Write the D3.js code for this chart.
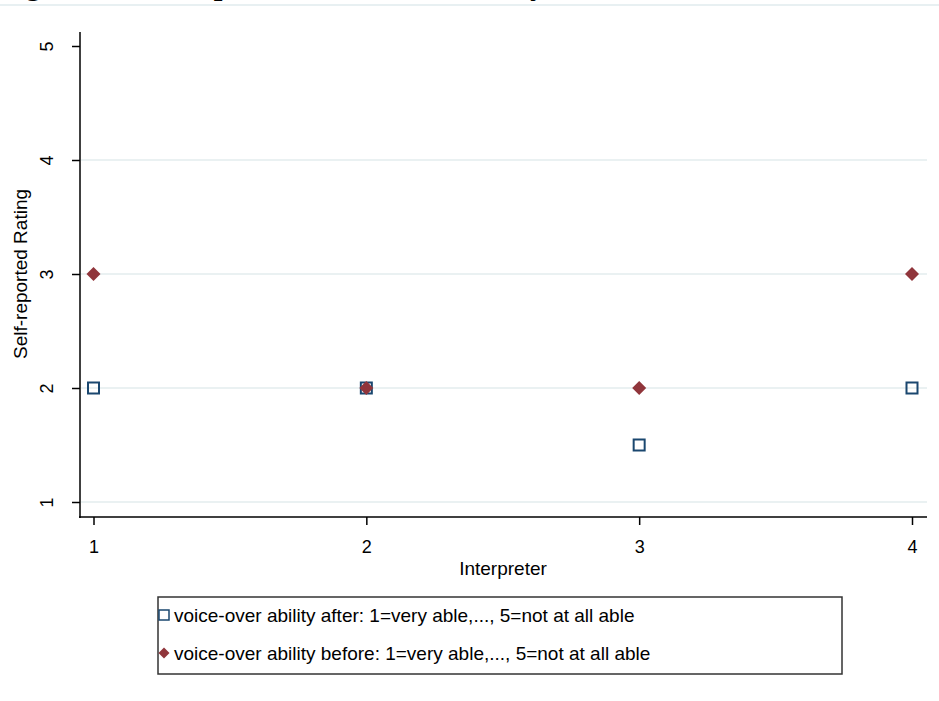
<!DOCTYPE html>
<html><head><meta charset="utf-8">
<script src="https://cdn.jsdelivr.net/npm/d3@7"></script>
<style>body{margin:0;background:#fff;} svg{display:block;}</style>
</head><body>
<svg id="chart" width="939" height="701"></svg>
<script>
const interpreters = [1, 2, 3, 4];
const afterValues = [2, 2, 1.5, 2];
const beforeValues = [3, 2, 2, 3];
const yTicks = [1, 2, 3, 4, 5];
const gridTicks = [1, 2, 3, 4];
const seriesNames = [
  "voice-over ability after: 1=very able,..., 5=not at all able",
  "voice-over ability before: 1=very able,..., 5=not at all able"
];
const titleText = "Figure 5: Self-reported Voice-over Ability";

const svg = d3.select("#chart");
const font = "'Liberation Sans', Arial, sans-serif";
const navy = "#1a476f", maroon = "#90353b";

// cut-off title at top (only descenders visible in the reference)
svg.append("text").attr("x", -2).attr("y", -6)
  .attr("font-family", "'Liberation Serif', 'Times New Roman', serif")
  .attr("font-weight", "bold").attr("font-size", 31).attr("fill", "#000")
  .text(titleText);
svg.append("rect").attr("x", 0).attr("y", 4).attr("width", 939).attr("height", 2).attr("fill", "#e8f0f2");

const x = d3.scaleLinear().domain([1, 4]).range([93.5, 912]);
const y = d3.scaleLinear().domain([1, 5]).range([502, 46]);

// gridlines
svg.append("g").selectAll("line").data(gridTicks).join("line")
  .attr("x1", 81).attr("x2", 927).attr("y1", d => y(d)).attr("y2", d => y(d))
  .attr("stroke", "#e3ecee").attr("stroke-width", 1.5);

// axes lines
svg.append("line").attr("x1", 80).attr("x2", 80).attr("y1", 32).attr("y2", 518)
  .attr("stroke", "#000").attr("stroke-width", 1.5);
svg.append("line").attr("x1", 79).attr("x2", 927).attr("y1", 517).attr("y2", 517)
  .attr("stroke", "#000").attr("stroke-width", 1.5);

// y axis
const yAxis = svg.append("g").attr("transform", "translate(80,0)")
  .call(d3.axisLeft(y).tickValues(yTicks).tickSize(8).tickPadding(0).tickFormat(d3.format("d")));
yAxis.select(".domain").remove();
yAxis.selectAll(".tick line").attr("stroke", "#000").attr("stroke-width", 1.5);
yAxis.selectAll(".tick text").attr("font-family", font).attr("font-size", 18).attr("fill", "#000")
  .attr("text-anchor", "middle").attr("x", 0).attr("dy", 0).attr("y", 0)
  .attr("transform", "translate(-32,0) rotate(-90)").attr("dominant-baseline", "middle");

// x axis
const xAxis = svg.append("g").attr("transform", "translate(0,517)")
  .call(d3.axisBottom(x).tickValues(interpreters).tickSize(8).tickPadding(0).tickFormat(d3.format("d")));
xAxis.select(".domain").remove();
xAxis.selectAll(".tick line").attr("stroke", "#000").attr("stroke-width", 1.5);
xAxis.selectAll(".tick text").attr("font-family", font).attr("font-size", 18).attr("fill", "#000")
  .attr("y", 30).attr("dy", "0.32em");

// axis titles
svg.append("text").attr("x", 503).attr("y", 575).attr("text-anchor", "middle")
  .attr("font-family", font).attr("font-size", 19).attr("fill", "#000").text("Interpreter");
svg.append("text").attr("transform", "translate(27,274) rotate(-90)").attr("text-anchor", "middle")
  .attr("font-family", font).attr("font-size", 19).attr("fill", "#000").text("Self-reported Rating");

// markers
const diamond = (cx, cy, r) => `M${cx},${cy - r}L${cx + r},${cy}L${cx},${cy + r}L${cx - r},${cy}Z`;
svg.append("g").selectAll("rect").data(interpreters.map((d, i) => [d, afterValues[i]])).join("rect")
  .attr("x", d => x(d[0]) - 5.5).attr("y", d => y(d[1]) - 5.5).attr("width", 11).attr("height", 11)
  .attr("fill", "none").attr("stroke", navy).attr("stroke-width", 2);
svg.append("g").selectAll("path").data(interpreters.map((d, i) => [d, beforeValues[i]])).join("path")
  .attr("d", d => diamond(x(d[0]), y(d[1]), 7)).attr("fill", maroon);

// legend
const lg = svg.append("g");
lg.append("rect").attr("x", 158).attr("y", 597).attr("width", 684).attr("height", 77)
  .attr("fill", "#fff").attr("stroke", "#333").attr("stroke-width", 1.5);
lg.append("rect").attr("x", 164 - 5).attr("y", 615 - 5).attr("width", 10).attr("height", 10)
  .attr("fill", "none").attr("stroke", navy).attr("stroke-width", 1.5);
lg.append("path").attr("d", diamond(164, 653, 5.5)).attr("fill", maroon);
lg.selectAll("text.lbl").data(seriesNames).join("text").attr("class", "lbl")
  .attr("x", 174).attr("y", (d, i) => 615 + i * 38).attr("dy", "0.35em")
  .attr("font-family", font).attr("font-size", 19).attr("fill", "#000").text(d => d);
</script>
</body></html>
